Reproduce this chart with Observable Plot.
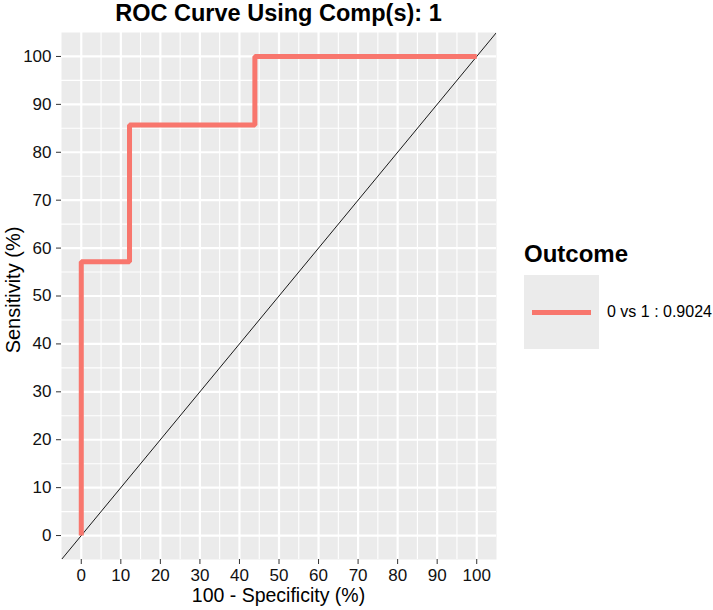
<!DOCTYPE html>
<html>
<head>
<meta charset="utf-8">
<script src="https://cdn.jsdelivr.net/npm/d3@7"></script>
<script src="https://cdn.jsdelivr.net/npm/@observablehq/plot@0.6"></script>
<style>
  body { margin: 0; background: #fff; }
  #wrap { position: relative; width: 713px; height: 610px; font-family: "Liberation Sans", Arial, sans-serif; color: #000; overflow: hidden; }
  #wrap svg { position: absolute; left: 0; top: 0; }
  .abs { position: absolute; white-space: nowrap; line-height: 1.15; }
  #title { left: 0; width: 557px; top: 0px; text-align: center; font-weight: bold; font-size: 23.5px; }
  #xlab { left: 0; width: 557px; top: 584px; text-align: center; font-size: 19.5px; }
  #ylab { left: 13px; top: 290px; font-size: 20px; transform: translate(-50%, -50%) rotate(-90deg); }
  #legTitle { left: 524px; top: 240px; font-weight: bold; font-size: 24px; }
  #legKey { left: 524px; top: 275px; width: 75px; height: 74px; background: #EBEBEB; }
  #legLine { position: absolute; left: 8px; top: 35px; width: 59px; height: 5px; background: #F8766D; }
  #legLabel { left: 607px; top: 303px; font-size: 16px; }
</style>
</head>
<body>
<div id="wrap">
  <div id="title" class="abs">ROC Curve Using Comp(s): 1</div>
  <div id="xlab" class="abs">100 - Specificity (%)</div>
  <div id="ylab" class="abs">Sensitivity (%)</div>
  <div id="legTitle" class="abs">Outcome</div>
  <div id="legKey" class="abs"><div id="legLine"></div></div>
  <div id="legLabel" class="abs">0 vs 1 : 0.9024</div>
</div>
<script>
// ROC curve points (100 - specificity, sensitivity), in %
const fpr = [0, 0, 12.2, 12.2, 43.9, 43.9, 100];
const tpr = [0, 57.14, 57.14, 85.71, 85.71, 100, 100];
// chance reference line y = x, across the axis range
const refLine = [-5, 105];
// axis breaks
const majorTicks = [0, 10, 20, 30, 40, 50, 60, 70, 80, 90, 100];
const minorTicks = [5, 15, 25, 35, 45, 55, 65, 75, 85, 95];
const axisDomain = [-5, 105];

const roc = fpr.map((x, i) => ({ x, y: tpr[i] }));

const chart = Plot.plot({
  width: 713,
  height: 610,
  marginLeft: 61,
  marginRight: 217,
  marginTop: 32,
  marginBottom: 51,
  style: { fontFamily: "Liberation Sans, Arial, sans-serif", color: "#111", background: "transparent", overflow: "visible" },
  x: { domain: axisDomain, label: null },
  y: { domain: axisDomain, label: null },
  marks: [
    Plot.frame({ fill: "#EBEBEB", stroke: "none" }),
    Plot.ruleX(minorTicks, { stroke: "#fff", strokeWidth: 1.1 }),
    Plot.ruleY(minorTicks, { stroke: "#fff", strokeWidth: 1.1 }),
    Plot.ruleX(majorTicks, { stroke: "#fff", strokeWidth: 2.2 }),
    Plot.ruleY(majorTicks, { stroke: "#fff", strokeWidth: 2.2 }),
    Plot.line(refLine, { x: d => d, y: d => d, stroke: "#000", strokeWidth: 0.9, clip: true }),
    Plot.line(roc, { x: "x", y: "y", stroke: "#F8766D", strokeWidth: 5, strokeLinejoin: "miter", strokeLinecap: "butt" }),
    Plot.axisX({ ticks: majorTicks, tickSize: 5, tickPadding: 4, fontSize: 17, label: null, stroke: "#333" }),
    Plot.axisY({ ticks: majorTicks, tickSize: 5, tickPadding: 5, fontSize: 17, label: null, stroke: "#333" })
  ]
});
document.getElementById("wrap").prepend(chart);
</script>
</body>
</html>
